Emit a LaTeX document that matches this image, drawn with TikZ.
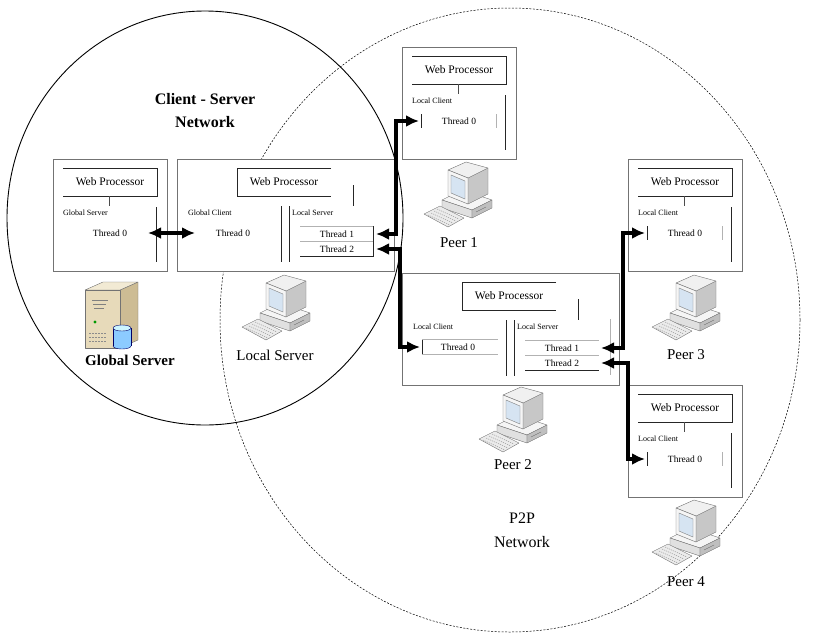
\documentclass[tikz,border=0pt]{standalone}
\usepackage{fontspec}
\setmainfont{Liberation Serif}
\usetikzlibrary{arrows.meta}

\definecolor{tan}{RGB}{231,218,186}
\definecolor{tanside}{RGB}{205,188,148}
\definecolor{tantop}{RGB}{242,234,212}
\definecolor{crt}{RGB}{214,228,242}

\tikzset{
  boxframe/.style={draw=black!55, fill=white, line width=0.6pt},
  wpline/.style={draw=black!85, line width=0.8pt},
  divider/.style={draw=black!85, line width=0.8pt},
  faint/.style={draw=black!30, line width=0.6pt},
  wptext/.style={font=\fontsize{11.5}{13}\selectfont, inner sep=0pt},
  rolefont/.style={font=\fontsize{8}{9}\selectfont, inner sep=0pt},
  thread/.style={font=\fontsize{9.5}{10}\selectfont, inner sep=0pt},
  devname/.style={font=\fontsize{15}{17}\selectfont, inner sep=0pt},
  netname/.style={align=center, inner sep=0pt},
  link/.style={line width=3.2pt, {Latex[length=13pt,width=12pt]}-{Latex[length=13pt,width=12pt]}},
  casing/.style={draw=black!55, fill=black!4, line width=0.4pt, line join=round},
  screen/.style={draw=black!50, fill=crt, line width=0.4pt},
  beige/.style={draw=black!55, fill=tan, line width=0.4pt, line join=round},
  disk/.style={draw=blue!40!black, fill=blue!45!cyan!45, line width=0.4pt},
  % small processor box (peer / global server)
  procbox/.pic={
    \draw[boxframe] (0,0) rectangle (114,112);
    \draw[wpline] (10,9) -- (104,9) -- (104,37) -- (10,37);
    \node[wptext] (-wp) at (57,23) {Web Processor};
    \draw[black!70, line width=0.5pt] (56,37) -- (56,47);
    \draw[divider] (103,48) -- (103,103);
    \node[rolefont, anchor=west] (-role) at (10,54) {#1};
    \node[thread] (-t0) at (57,74) {Thread 0};
    \coordinate (-tl) at (19,67);
    \coordinate (-tr) at (94,67);
    \coordinate (-in) at (17,74);
    \coordinate (-out) at (95,74);
  },
  % wide processor box with client and server side
  hubbox/.pic={
    \draw[boxframe] (0,0) rectangle (217,112);
    \draw[wpline] (154,9) -- (60,9) -- (60,37) -- (154,37);
    \node[wptext] (-wp) at (107,23) {Web Processor};
    \draw[divider] (176,26) -- (176,47);
    \node[rolefont, anchor=west] (-role) at (11,54) {#1};
    \node[thread] (-t0) at (56,74) {Thread 0};
    \draw[divider] (104,47) -- (104,103);
    \draw[divider] (112,47) -- (112,103);
    \node[rolefont, anchor=west] (-srv) at (115,54) {Local Server};
    \draw[faint] (123,67) -- (197,67) (123,82) -- (197,82);
    \draw[divider] (123,97) -- (197,97);
    \node[thread] (-t1) at (160,75) {Thread 1};
    \node[thread] (-t2) at (160,90) {Thread 2};
    \coordinate (-in) at (18,74);
    \coordinate (-in1) at (199,75);
    \coordinate (-in2) at (199,90);
    \coordinate (-tb) at (196,67);
    \coordinate (-cl) at (20,66);
    \coordinate (-se) at (208,46);
  },
  % desktop computer
  desktop/.pic={
    \filldraw[casing] (-16,4) -- (4,-6) -- (34,4) -- (14,14) -- cycle;
    \filldraw[casing, fill=black!12] (-16,4) -- (14,14) -- (14,22) -- (-16,12) -- cycle;
    \filldraw[casing, fill=black!25] (14,14) -- (34,4) -- (34,12) -- (14,22) -- cycle;
    \draw[black!60] (18,16) -- (28,11);
    \filldraw[casing, fill=black!22] (10,-18) -- (30,-28) -- (30,-2) -- (10,8) -- cycle;
    \filldraw[casing, fill=black!6] (-10,-26) -- (8,-34) -- (30,-28) -- (10,-18) -- cycle;
    \filldraw[casing] (-10,-26) -- (10,-18) -- (10,8) -- (-10,0) -- cycle;
    \filldraw[screen] (-7,-21) -- (7,-15) -- (7,3) -- (-7,-3) -- cycle;
    \filldraw[casing, fill=black!8] (-34,18) -- (-18,10) -- (6,22) -- (-10,31) -- cycle;
    \foreach \k in {0,1,2,3}
      \draw[black!45, dash pattern=on 1.2pt off 1pt] (-30+3*\k,19-2*\k) -- (-8+3*\k,29-2*\k);
  },
  % server tower with database
  tower/.pic={
    \filldraw[beige, fill=tanside] (8,-26) -- (26,-34) -- (26,24) -- (8,32) -- cycle;
    \filldraw[beige, fill=tantop] (-27,-26) -- (-9,-34) -- (26,-34) -- (8,-26) -- cycle;
    \filldraw[beige] (-27,-26) rectangle (8,32);
    \draw[black!50, line width=0.5pt] (-20,-16) -- (-4,-16) (-19,-12) -- (-6,-12) (-18,-8) -- (-8,-8);
    \fill[green!60!black] (-17,6) circle (1.6);
    \foreach \r in {17,21,25}
      \draw[black!45, line width=0.6pt, dash pattern=on 2pt off 1pt] (-23,\r) -- (-6,\r);
    \filldraw[disk] (10,30) ellipse (9 and 3);
    \fill[blue!45!cyan!45] (1,12) rectangle (19,30);
    \draw[blue!40!black, line width=0.4pt] (1,12) -- (1,30) (19,12) -- (19,30);
    \filldraw[disk, fill=blue!20!cyan!20] (10,12) ellipse (9 and 3);
  },
}

\begin{document}
\begin{tikzpicture}[x=1pt,y=-1pt]
  \useasboundingbox (0,0) rectangle (838,635);

  % the two networks
  \draw[line width=0.5pt, dash pattern=on 2pt off 1.5pt] (510,320) ellipse (290 and 312);
  \draw[line width=0.9pt] (205,218) ellipse (198 and 207);

  % processor boxes
  \pic (global) at (53,159) {procbox=Global Server};
  \pic (localsrv) at (177,159) {hubbox=Global Client};
  \pic (peerone) at (402,47) {procbox=Local Client};
  \pic (peertwo) at (402,273) {hubbox=Local Client};
  \pic (peerthree) at (628,159) {procbox=Local Client};
  \pic (peerfour) at (628,385) {procbox=Local Client};

  \foreach \p in {peerone,peerthree,peerfour} {
    \draw[divider] (\p-tl) -- ++(0,14);
    \draw[faint] (\p-tr) -- ++(0,14);
  }
  \draw[divider] (localsrv-tb) -- ++(0,30);
  \draw[divider] (peertwo-cl) -- ++(0,15);
  \draw[faint] (peertwo-cl) -- ++(76,0) (peertwo-cl) ++(0,15) -- ++(76,0);
  \draw[faint] (peertwo-se) -- ++(0,56);

  % connections between threads
  \draw[link] (global-out) -- (localsrv-in);
  \draw[link] (localsrv-in1) -- ++(20,0) |- (peerone-in);
  \draw[link] (localsrv-in2) -- ++(24,0) |- (peertwo-in);
  \draw[link] (peertwo-in1) -- ++(22,0) |- (peerthree-in);
  \draw[link] (peertwo-in2) -- ++(27,0) |- (peerfour-in);

  % machines
  \pic at (112,316) {tower};
  \pic at (276,309) {desktop};
  \pic at (458,196) {desktop};
  \pic at (513,421) {desktop};
  \pic at (686,309) {desktop};
  \pic at (686,534) {desktop};

  % labels
  \node[netname, font=\bfseries\fontsize{16}{23}\selectfont] (csnet) at (205,111) {Client - Server\\Network};
  \node[netname, font=\fontsize{16}{24}\selectfont] (ppnet) at (522,530) {P2P\\Network};
  \node[devname, font=\bfseries\fontsize{15}{17}\selectfont] (globallbl) at (130,360) {Global Server};
  \node[devname] (locallbl) at (275,355) {Local Server};
  \node[devname] (peeronelbl) at (459,243) {Peer 1};
  \node[devname] (peertwolbl) at (513,465) {Peer 2};
  \node[devname] (peerthreelbl) at (686,355) {Peer 3};
  \node[devname] (peerfourlbl) at (686,582) {Peer 4};
\end{tikzpicture}
\end{document}
